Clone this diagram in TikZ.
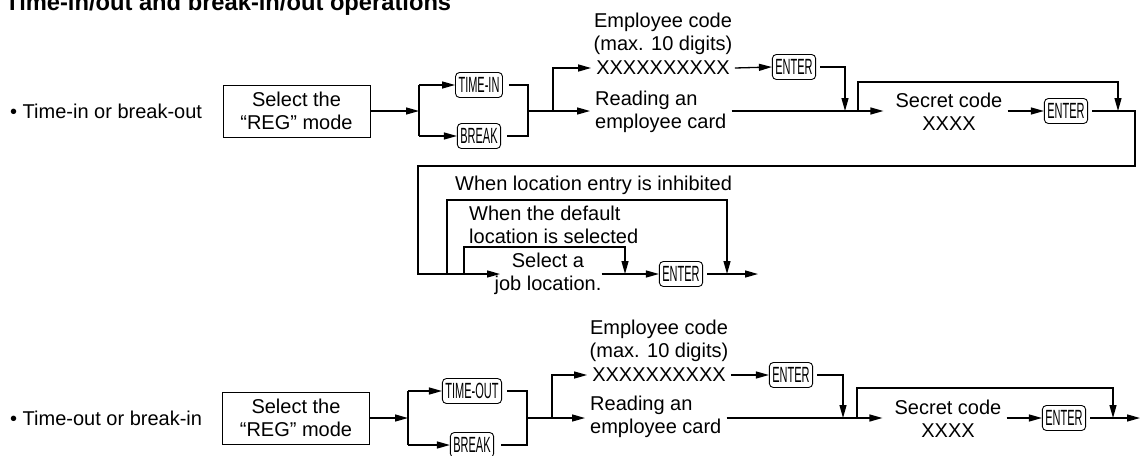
\documentclass[tikz,border=0pt]{standalone}
\usepackage{fontspec}
\setmainfont{Liberation Sans}
\usetikzlibrary{arrows.meta}
\newcommand\keytext[1]{\scalebox{0.5}[1]{\fontsize{22}{22}\selectfont #1}}
\tikzset{
  ln/.style={line width=1.3pt},
  arr/.style={ln,-{Triangle[length=13pt,width=7pt]}},
  txt/.style={inner sep=0pt,font=\fontsize{20}{23}\selectfont,align=center},
  key/.style={draw,line width=0.9pt,rounded corners=4pt,inner xsep=3pt,inner ysep=0pt,minimum height=25pt},
  regbox/.style={draw,line width=1pt,minimum width=147pt,minimum height=52pt,inner sep=0pt,font=\fontsize{20}{23}\selectfont,align=center}
}
\begin{document}
\begin{tikzpicture}[x=1pt,y=-1pt]
\useasboundingbox (0,0) rectangle (1147,455);
\node[anchor=base west,inner sep=0pt,font=\bfseries\fontsize{23.7}{26}\selectfont] (title) at (5,10) {Time-in/out and break-in/out operations};

% ---------- Row 1 ----------
\node[txt,anchor=west] (lab1) at (10,111) {• Time-in or break-out};
\node[regbox] (reg1) at (296.5,111) {Select the\\“REG” mode};
\node[key] (tin1) at (479,85) {\keytext{TIME-IN}};
\node[key] (brk1) at (479,136) {\keytext{BREAK}};
\node[txt] (emp1) at (663,33.5) {Employee code\\(max. 10 digits)};
\node[txt] (xx1) at (663,68) {XXXXXXXXXX};
\node[txt,anchor=west,align=left] (rd1) at (595,111.5) {Reading an\\employee card};
\node[key] (ent1) at (794,67) {\keytext{ENTER}};
\node[txt] (sec1) at (949,111.5) {Secret code\\XXXX};
\node[key] (ent2) at (1066,111) {\keytext{ENTER}};
\node[txt,anchor=west] (inh) at (455,185) {When location entry is inhibited};
\node[txt,anchor=west,align=left] (def) at (469,225) {When the default\\location is selected};
\node[txt] (sel) at (548,274) {Select a\\job location.};
\node[key] (ent3) at (681,274) {\keytext{ENTER}};

\coordinate (s1) at (419,111);
\coordinate (j1) at (528,111);
\coordinate (s2) at (553,111);
\coordinate (c1) at (845,111);
\coordinate (b1) at (858,111);
\coordinate (b1t) at (858,82);
\coordinate (c2) at (1118,111);
\coordinate (r1) at (1135,111);
\coordinate (w1) at (418,166);
\coordinate (w2) at (418,274);
\coordinate (t1) at (500,274);
\coordinate (h1) at (447,274);
\coordinate (h1t) at (447,200);
\coordinate (h1e) at (727,274);
\coordinate (d1) at (464,274);
\coordinate (d1t) at (464,247);
\coordinate (d1e) at (625,274);
\coordinate (e3) at (758,274);

\draw[arr] (reg1.east) -- (s1);
\draw[ln] (s1 |- tin1) -- (s1 |- brk1);
\draw[arr] (s1 |- tin1) -- (tin1.west);
\draw[arr] (s1 |- brk1) -- (brk1.west);
\draw[ln] ([xshift=6pt]tin1.east) -| (j1) |- ([xshift=6pt]brk1.east);
\draw[arr] (j1) -- ([xshift=-5pt]rd1.west |- j1);
\draw[arr] (s2) |- ([xshift=-5pt]xx1.west);
\draw[arr] ([xshift=5pt]xx1.east) -- (ent1.west);
\draw[arr] ([xshift=4pt]ent1.east) -| (c1);
\draw[arr] ([xshift=5pt]rd1.east |- j1) -- ([xshift=-12pt]sec1.west |- j1);
\draw[arr] (b1) -- (b1t) -| (c2);
\draw[arr] ([xshift=5pt]sec1.east |- ent2) -- (ent2.west);
\draw[arr] ([xshift=4pt]ent2.east) -- (r1) |- (w1) -- (w2) -- (t1);
\draw[arr] (h1) -- (h1t) -| (h1e);
\draw[arr] (d1) -- (d1t) -| (d1e);
\draw[arr] (sel.east |- ent3) -- (ent3.west);
\draw[arr] ([xshift=4pt]ent3.east) -- (e3);

% ---------- Row 2 ----------
\node[txt,anchor=west] (lab2) at (10,418) {• Time-out or break-in};
\node[regbox] (reg2) at (296,418) {Select the\\“REG” mode};
\node[key] (tout) at (472,391) {\keytext{TIME-OUT}};
\node[key] (brk2) at (472,445) {\keytext{BREAK}};
\node[txt] (emp2) at (659,340.5) {Employee code\\(max. 10 digits)};
\node[txt] (xx2) at (659,375) {XXXXXXXXXX};
\node[txt,anchor=west,align=left] (rd2) at (590,417) {Reading an\\employee card};
\node[key] (ent4) at (791,375) {\keytext{ENTER}};
\node[txt] (sec2) at (948,419) {Secret code\\XXXX};
\node[key] (ent5) at (1064,418) {\keytext{ENTER}};

\coordinate (s3) at (408,418);
\coordinate (j2) at (527,418);
\coordinate (s4) at (552,418);
\coordinate (c3) at (843,418);
\coordinate (b2) at (857,418);
\coordinate (b2t) at (857,388);
\coordinate (c4) at (1113,418);
\coordinate (e5) at (1140,418);

\draw[arr] (reg2.east) -- (s3);
\draw[ln] (s3 |- tout) -- (s3 |- brk2);
\draw[arr] (s3 |- tout) -- (tout.west);
\draw[arr] (s3 |- brk2) -- (brk2.west);
\draw[ln] ([xshift=5pt]tout.east) -| (j2) |- ([xshift=7pt]brk2.east);
\draw[arr] (j2) -- ([xshift=-5pt]rd2.west |- j2);
\draw[arr] (s4) |- ([xshift=-5pt]xx2.west);
\draw[arr] ([xshift=5pt]xx2.east) -- (ent4.west);
\draw[arr] ([xshift=4pt]ent4.east) -| (c3);
\draw[arr] ([xshift=5pt]rd2.east |- j2) -- ([xshift=-12pt]sec2.west |- j2);
\draw[arr] (b2) -- (b2t) -| (c4);
\draw[arr] ([xshift=5pt]sec2.east |- ent5) -- (ent5.west);
\draw[arr] ([xshift=4pt]ent5.east) -- (e5);
\end{tikzpicture}
\end{document}
